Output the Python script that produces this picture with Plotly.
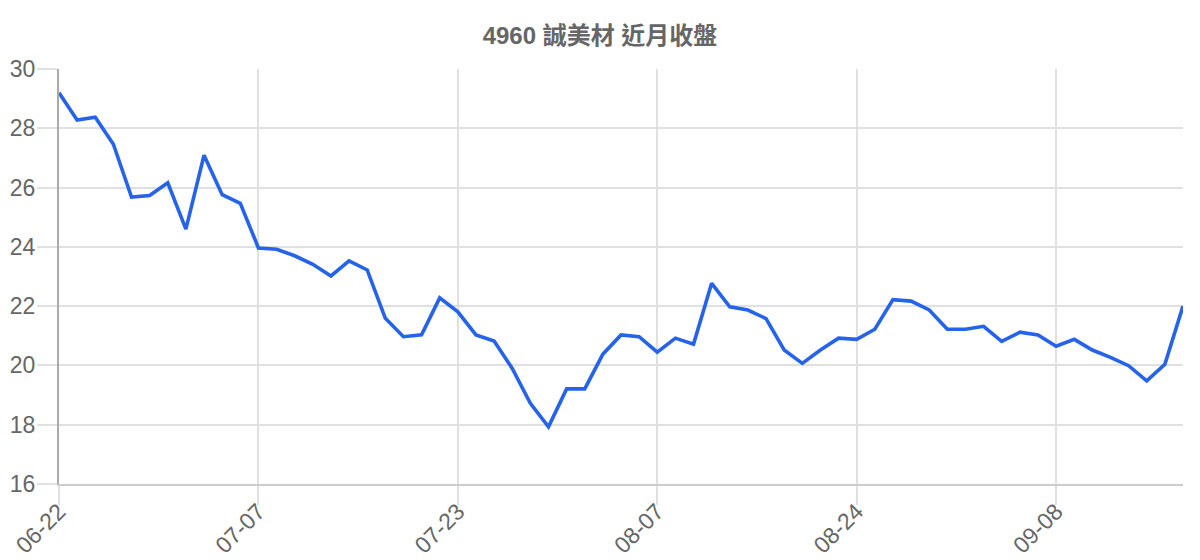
import plotly.graph_objects as go

# trading days (MM-DD)
dates = [
    "06-22", "06-23", "06-24", "06-25", "06-26", "06-29", "06-30", "07-01", "07-02", "07-03",
    "07-06", "07-07", "07-08", "07-09", "07-10", "07-13", "07-14", "07-15", "07-16", "07-17",
    "07-20", "07-21", "07-23", "07-24", "07-27", "07-28", "07-29", "07-30", "07-31", "08-03",
    "08-04", "08-05", "08-06", "08-07", "08-10", "08-11", "08-12", "08-13", "08-14", "08-17",
    "08-18", "08-19", "08-20", "08-21", "08-24", "08-25", "08-26", "08-27", "08-28", "08-31",
    "09-01", "09-02", "09-03", "09-04", "09-07", "09-08", "09-09", "09-10", "09-11", "09-14",
    "09-15", "09-16", "09-17",
]

# closing price
close = [
    29.20, 28.28, 28.37, 27.46, 25.68, 25.73, 26.16, 24.60, 27.09, 25.76,
    25.47, 23.96, 23.92, 23.70, 23.41, 23.02, 23.53, 23.22, 21.59, 20.97,
    21.03, 22.28, 21.81, 21.03, 20.82, 19.90, 18.72, 17.93, 19.21, 19.21,
    20.38, 21.03, 20.97, 20.45, 20.92, 20.72, 22.77, 21.98, 21.87, 21.58,
    20.52, 20.07, 20.52, 20.92, 20.88, 21.22, 22.22, 22.17, 21.87, 21.22,
    21.22, 21.32, 20.81, 21.12, 21.03, 20.65, 20.88, 20.52, 20.27, 19.99,
    19.48, 20.04, 22.00,
]

tick_labels = ["06-22", "07-07", "07-23", "08-07", "08-24", "09-08"]

font_family = "Liberation Sans, Arial, Noto Sans CJK TC, sans-serif"

fig = go.Figure()
fig.add_trace(go.Scatter(
    x=dates, y=close, mode="lines",
    line=dict(color="#2563eb", width=3.6),
    hoverinfo="x+y",
))

fig.update_layout(
    width=1200, height=560,
    margin=dict(l=59, r=17, t=69, b=76),
    paper_bgcolor="white", plot_bgcolor="white",
    showlegend=False,
    font=dict(family=font_family, color="#666", size=22),
    title=dict(
        text="<b>4960 誠美材 近月收盤</b>",
        x=0.5, xanchor="center", y=0.937, yanchor="middle",
        font=dict(size=24, color="#666", family=font_family),
    ),
)

fig.update_xaxes(
    type="category", automargin=False,
    range=[0, len(dates) - 1],
    tickmode="array", tickvals=tick_labels, ticktext=tick_labels,
    tickangle=-45, ticklabelstandoff=-16,
    showgrid=True, gridcolor="#e0e0e0", gridwidth=1.5,
    ticks="outside", ticklen=19, tickcolor="#e0e0e0", tickwidth=1.5,
    showline=True, linecolor="#cccccc", linewidth=2,
    zeroline=False,
    tickfont=dict(size=23, color="#666"),
)

fig.update_yaxes(
    automargin=False,
    range=[16, 30], dtick=2, tick0=16,
    ticklabelstandoff=-3,
    showgrid=True, gridcolor="#e0e0e0", gridwidth=1.5,
    ticks="outside", ticklen=20, tickcolor="#e0e0e0", tickwidth=1.5,
    showline=True, linecolor="#aaaaaa", linewidth=2,
    zeroline=False,
    tickfont=dict(size=23, color="#666"),
)

# the page body has a default 8px margin; drop it so the figure sits at 0,0
fig.write_html(
    "out.html",
    config={"displayModeBar": False},
    post_script="document.body.style.margin='0';",
)
